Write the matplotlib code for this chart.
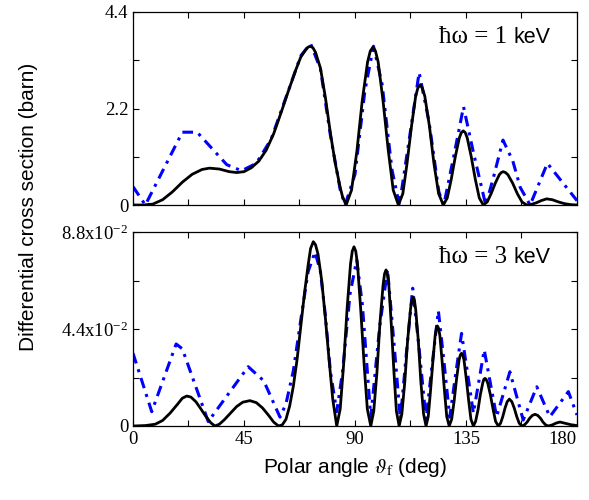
import matplotlib
matplotlib.use("Agg")
import matplotlib.pyplot as plt
from matplotlib.ticker import MultipleLocator

plt.rcParams["mathtext.fontset"] = "stix"

# hbar*omega = 1 keV (top panel), values in barn
top_black_x = [0, 4, 8, 12, 16, 20, 24, 28, 31, 35, 39, 42, 45, 48, 51, 54, 57, 60, 63, 66,
               68, 70, 71, 72, 73, 74, 76, 78, 80, 82, 84, 85, 86.4,
               88.6, 90.8, 92.9, 95.1, 96.2, 97.3, 98.3, 99.4, 101.4, 103.5, 105.5, 107.6,
               109.4, 111.1, 112.9, 114.6, 115.5, 116.4, 117.3, 118.3, 120.2, 122.0, 123.9, 125.8,
               127.4, 129.0, 130.7, 132.3, 133.1, 133.9, 134.7, 135.5, 137.1, 138.8, 140.4, 142,
               143.6, 145.2, 146.9, 148.5, 149.3, 150.1, 151.0, 152.0, 153.9, 155.8, 157.7, 159.6,
               161.5, 163.5, 165.5, 167.7, 170, 172.5, 175, 177.5, 180]
top_black_y = [0.0, 0.0, 0.02, 0.12, 0.3, 0.52, 0.7, 0.81, 0.84, 0.82, 0.76, 0.74, 0.76, 0.85,
               1.0, 1.25, 1.62, 2.1, 2.6, 3.08, 3.37, 3.54, 3.6, 3.62, 3.58, 3.48, 3.12, 2.45,
               1.65, 0.95, 0.4, 0.18, 0.0,
               0.34, 1.24, 2.36, 3.26, 3.51, 3.6, 3.51, 3.26, 2.36, 1.24, 0.34, 0.0,
               0.26, 0.95, 1.79, 2.48, 2.67, 2.74, 2.67, 2.48, 1.79, 0.95, 0.26, 0.0,
               0.16, 0.58, 1.11, 1.53, 1.65, 1.69, 1.65, 1.53, 1.11, 0.58, 0.16, 0.0,
               0.07, 0.26, 0.5, 0.69, 0.74, 0.76, 0.74, 0.69, 0.5, 0.26, 0.07, 0.0,
               0.015, 0.05, 0.1, 0.14, 0.12, 0.07, 0.03, 0.008, 0.0]
top_blue_x = [0, 5, 20, 26, 38, 44, 50, 56, 62, 68, 72, 76, 80, 84, 86, 90, 94, 97.5, 101,
              105, 108, 112, 116, 120, 124, 126, 130, 134, 138, 143, 146, 150, 154, 157, 161,
              168, 180]
top_blue_y = [0.42, 0.0, 1.66, 1.66, 0.92, 0.78, 0.95, 1.5, 2.45, 3.4, 3.68, 3.1, 1.6, 0.35,
              0.0, 0.7, 2.6, 3.62, 2.75, 0.8, 0.0, 1.5, 3.02, 1.9, 0.3, 0.0, 1.1, 2.24, 1.2,
              0.0, 0.6, 1.48, 1.0, 0.4, 0.0, 0.95, 0.1]

# hbar*omega = 3 keV (bottom panel)
bot_black_x = [0, 5, 9, 12, 15, 18, 20, 21.8, 23.5, 25.5, 27.5, 29.5, 31.5, 33.2,
               35, 37, 39.5, 42, 44.5, 47.4, 50, 52.5, 55, 57, 59,
               60.5, 62, 63.5, 65, 66.5, 68, 69.5, 71, 72, 73.1, 74, 75, 76.5, 78, 79.5, 81, 82.6,
               84.0, 85.4, 86.8, 88.2, 88.9, 89.6, 90.3, 91.0, 92.3, 93.7, 95.0, 96.4,
               97.6, 98.9, 100.1, 101.4, 102.0, 102.6, 103.1, 103.7, 104.7, 105.8, 106.8, 107.9,
               109.0, 110.2, 111.3, 112.5, 113.0, 113.6, 114.1, 114.6, 115.7, 116.7, 117.8, 118.8,
               119.7, 120.6, 121.6, 122.5, 123.0, 123.4, 123.9, 124.4, 125.3, 126.3, 127.2, 128.2,
               129.2, 130.2, 131.2, 132.2, 132.7, 133.2, 133.7, 134.2, 135.1, 136.1, 137.0, 138,
               138.9, 139.9, 140.8, 141.8, 142.2, 142.7, 143.2, 143.8, 144.9, 146.0, 147.0, 148.1,
               149.0, 149.9, 150.8, 151.7, 152.6, 153.6, 154.6, 155.6, 156.6, 157.6,
               158.7, 159.8, 160.8, 161.9, 163, 164.1, 165.2, 166.2, 167.3, 168.4,
               170, 171.5, 173.1, 175, 177.5, 180]
bot_black_y = [0.0, 0.0002, 0.0008, 0.0025, 0.0058, 0.0098, 0.0126, 0.0136, 0.0131, 0.011,
               0.0078, 0.0044, 0.0015, 0.0,
               0.0008, 0.0028, 0.0058, 0.0088, 0.0108, 0.0115, 0.0106, 0.0082, 0.0048, 0.0018, 0.0,
               0.0005, 0.003, 0.009, 0.018, 0.03, 0.045, 0.06, 0.073, 0.0805, 0.0836, 0.0822,
               0.078, 0.066, 0.049, 0.03, 0.012, 0.0,
               0.0077, 0.028, 0.0533, 0.0736, 0.0793, 0.0813, 0.0793, 0.0736, 0.0533, 0.028, 0.0077, 0.0,
               0.0067, 0.0244, 0.0464, 0.0641, 0.0691, 0.0708, 0.0691, 0.0641, 0.0464, 0.0244, 0.0067, 0.0,
               0.0055, 0.0201, 0.0383, 0.0529, 0.057, 0.0584, 0.057, 0.0529, 0.0383, 0.0201, 0.0055, 0.0,
               0.0043, 0.0157, 0.0297, 0.0411, 0.0443, 0.0454, 0.0443, 0.0411, 0.0297, 0.0157, 0.0043, 0.0,
               0.0031, 0.0114, 0.0216, 0.0299, 0.0322, 0.033, 0.0322, 0.0299, 0.0216, 0.0114, 0.0031, 0.0,
               0.0021, 0.0075, 0.0141, 0.0195, 0.0211, 0.0216, 0.0211, 0.0195, 0.0141, 0.0075, 0.0021, 0.0,
               0.0012, 0.0042, 0.008, 0.011, 0.0122, 0.011, 0.008, 0.0042, 0.0012, 0.0,
               0.0005, 0.0018, 0.0035, 0.0048, 0.0053, 0.0048, 0.0035, 0.0018, 0.0005, 0.0,
               0.0005, 0.0013, 0.0018, 0.0013, 0.0006, 0.0002]
bot_blue_x = [0, 7.6, 17.5, 20, 30.5, 46.7, 53, 59.6, 62, 65, 68, 71, 73.8, 76, 78, 80, 82.6,
              85, 88, 90.7, 93, 96.4, 100, 103.2, 106, 108.4, 111, 113.4, 116, 118.8, 121,
              123.8, 126, 128.4, 131, 133.2, 135.5, 138, 142.4, 147.4, 152.8, 158.2, 163.7,
              169, 176.5, 180]
bot_blue_y = [0.033, 0.0065, 0.0372, 0.035, 0.002, 0.0269, 0.0205, 0.004, 0.01, 0.025, 0.048,
              0.07, 0.079, 0.07, 0.05, 0.025, 0.0065, 0.025, 0.06, 0.0753, 0.055, 0.004,
              0.045, 0.071, 0.035, 0.003, 0.035, 0.0625, 0.035, 0.003, 0.025, 0.0523, 0.03,
              0.004, 0.025, 0.042, 0.025, 0.0058, 0.0345, 0.0042, 0.0246, 0.0027, 0.0178,
              0.0042, 0.0156, 0.005]

x_ticks = [0, 45, 90, 135, 180]
top_yticks = [0, 2.2, 4.4]
top_ytick_labels = ["0", "2.2", "4.4"]
bot_yticks = [0, 0.044, 0.088]
bot_ytick_labels = ["0", r"4.4x10$\mathregular{^{-2}}$", r"8.8x10$\mathregular{^{-2}}$"]

SERIF = "Liberation Serif"
SANS = "Liberation Sans"
BLUE_DASH = (0, (3.5, 2, 1, 2))

fig = plt.figure(figsize=(5.89, 5.0), dpi=100)
ax_top = fig.add_axes([0.2258, 0.59, 0.7538, 0.386])
ax_bot = fig.add_axes([0.2258, 0.148, 0.7538, 0.388])

panels = [
    (ax_top, top_black_x, top_black_y, top_blue_x, top_blue_y, top_yticks, top_ytick_labels, 4.4, "1"),
    (ax_bot, bot_black_x, bot_black_y, bot_blue_x, bot_blue_y, bot_yticks, bot_ytick_labels, 0.088, "3"),
]

for ax, bx, by, ux, uy, yt, ytl, ymax, energy in panels:
    ax.plot(ux, uy, color="#0000ff", lw=2.2, linestyle=BLUE_DASH)
    ax.plot(bx, by, color="black", lw=2.0)
    ax.set_xlim(0, 180)
    ax.set_ylim(0, ymax)
    ax.set_xticks(x_ticks)
    ax.xaxis.set_minor_locator(MultipleLocator(22.5))
    ax.set_yticks(yt)
    ax.set_yticklabels(ytl, fontfamily=SERIF, fontsize=13.5)
    ax.yaxis.set_minor_locator(MultipleLocator(ymax / 4))
    ax.tick_params(which="both", direction="in", top=True, right=True, length=4, width=0.8)
    for sp in ax.spines.values():
        sp.set_linewidth(0.9)
    ax.text(0.690, 0.87, "\u0127\u03c9 = " + energy, transform=ax.transAxes,
            fontfamily=SERIF, fontsize=18, ha="left", va="center")
    ax.text(0.858, 0.87, "keV", transform=ax.transAxes,
            fontfamily=SANS, fontsize=15.5, ha="left", va="center")

ax_top.tick_params(labelbottom=False)
ax_bot.set_xticklabels([str(t) for t in x_ticks], fontfamily=SERIF, fontsize=13.5)
ax_bot.get_xticklabels()[-1].set_horizontalalignment("right")
ax_bot.set_xlabel(r"Polar angle $\vartheta_{\mathrm{f}}$ (deg)", fontfamily=SANS, fontsize=15,
                  labelpad=6)
fig.text(0.048, 0.586, "Differential cross section (barn)", rotation=90,
         fontfamily=SANS, fontsize=15, ha="center", va="center")

fig.savefig("out.png", dpi=100)
